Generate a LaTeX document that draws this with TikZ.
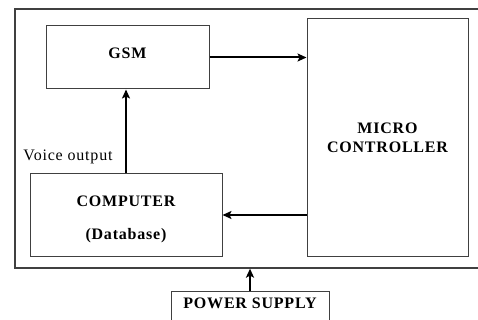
\documentclass[tikz,border=0pt]{standalone}
\usepackage{fontspec}
\setmainfont{Liberation Serif}
\newfontfamily\diagfont[LetterSpace=5]{Liberation Serif}
\usepackage{tikz}
\usetikzlibrary{arrows.meta, positioning}

\begin{document}
\begin{tikzpicture}[
    x=1pt, y=-1pt,
    block/.style = {
        rectangle,
        draw=black!75,
        line width=1pt,
        align=center,
        font=\diagfont\fontsize{16}{19}\selectfont\bfseries,
        inner sep=0pt
    },
    link/.style = {->, >={Stealth[length=9pt,width=8pt,inset=2pt]}, line width=2pt, black}
]

\useasboundingbox (0,0) rectangle (478,320);

\node [block, line width=1.3pt, minimum width=475pt, minimum height=259pt] (system) at (252.5,138.5) {};

\node [block, minimum width=163pt, minimum height=63pt, text depth=8pt] (gsm) at (127.5,57.5) {GSM};
\node [block, minimum width=161pt, minimum height=237pt] (mcu) at (387.5,137.5) {MICRO\\CONTROLLER};
\node [block, minimum width=192pt, minimum height=82pt,
       font=\diagfont\fontsize{16}{33}\selectfont\bfseries] (comp) at (126,215) {\rule{0pt}{19pt}COMPUTER\\(Database)};
\node [block, minimum width=158pt, inner ysep=5pt, text height=12pt, text depth=30pt, anchor=north] (power) at (250,291) {POWER SUPPLY};

\node [font=\diagfont\fontsize{16}{18}\selectfont, inner sep=0pt] (voice) at (68,157) {Voice output};

\draw[link] (gsm.east) -- (mcu.west |- gsm.east);
\draw[link] (comp.north) -- (comp.north |- gsm.south);
\draw[link] (mcu.west |- comp.east) -- (comp.east);
\draw[link] (power.north) -- (power.north |- system.south);

\end{tikzpicture}
\end{document}
